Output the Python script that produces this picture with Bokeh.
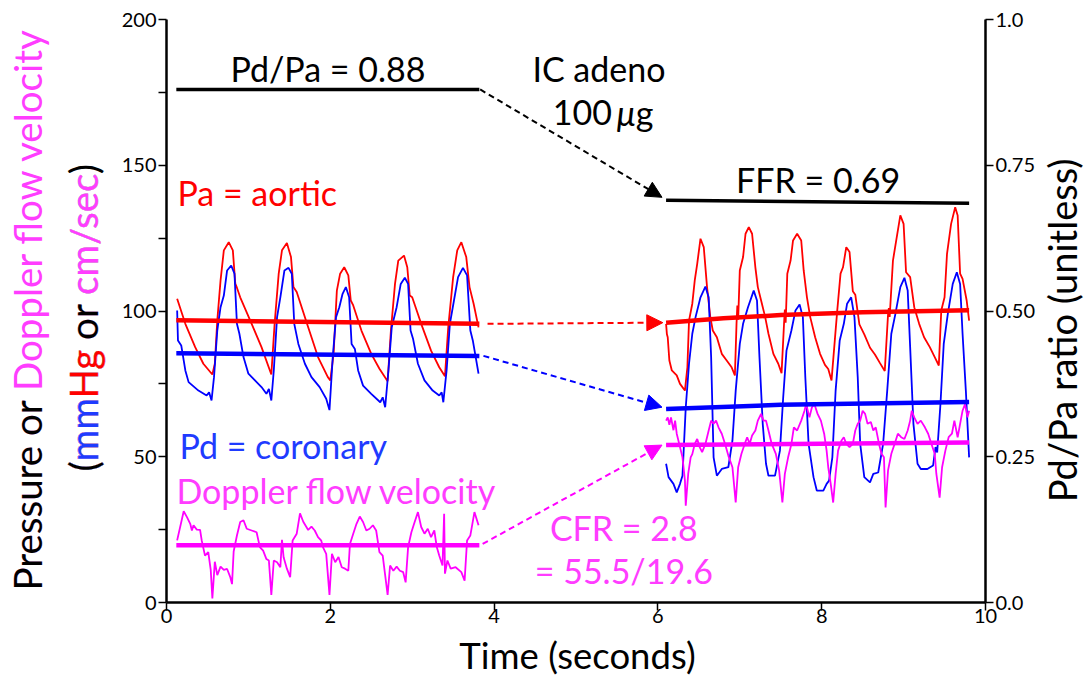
import math
from bokeh.plotting import figure
from bokeh.layouts import row, column
from bokeh.models import Range1d, LinearAxis, FixedTicker, Label, Arrow, NormalHead
from bokeh.core.properties import value
from bokeh.embed import file_html
from bokeh.resources import INLINE

# ---------------- data ----------------
x_ticks = [0, 2, 4, 6, 8, 10]
y_ticks = [0, 50, 100, 150, 200]
y_minor = [25, 75, 125, 175]
r_ticks = [0.0, 0.25, 0.50, 0.75, 1.0]
r_tick_labels = ["0.0", "0.25", "0.50", "0.75", "1.0"]

# baseline (before adenosine)
pa_pre = [(0.13,104.2),(0.23,95.6),(0.35,87.6),(0.45,81.9),(0.56,78.2),(0.59,81.9),(0.62,96.7),(0.66,110.5),
          (0.70,120.8),(0.76,123.6),(0.81,120.8),(0.84,109.4),(0.86,108.0),(0.90,104.7),(1.04,95.6),(1.16,87.6),
          (1.28,78.2),(1.32,95.6),(1.37,112.8),(1.41,120.8),(1.47,123.3),(1.52,118.5),(1.55,108.2),(1.59,106.5),
          (1.73,94.4),(1.85,84.2),(1.97,77.3),(2.00,76.2),(2.04,85.3),(2.08,107.0),(2.12,112.8),(2.17,115.0),
          (2.22,112.2),(2.25,103.6),(2.28,101.9),(2.38,93.3),(2.50,85.3),(2.60,80.2),(2.70,75.9),(2.74,93.3),
          (2.79,109.3),(2.83,117.3),(2.90,119.0),(2.94,115.0),(2.97,105.3),(3.00,104.7),(3.11,95.6),(3.23,86.4),
          (3.33,80.7),(3.40,77.6),(3.44,94.4),(3.50,111.6),(3.55,120.8),(3.60,123.6),(3.66,118.5),(3.70,108.2),
          (3.75,102.5),(3.81,94.4)]
pd_pre = [(0.13,100.2),(0.14,89.9),(0.18,88.2),(0.23,79.6),(0.27,75.6),(0.39,72.7),(0.49,71.0),(0.52,72.1),
          (0.55,69.3),(0.58,77.3),(0.62,93.3),(0.66,101.3),(0.70,105.3),(0.74,113.9),(0.79,115.6),(0.83,112.8),
          (0.86,95.6),(0.89,92.2),(0.94,84.2),(1.00,78.5),(1.08,76.2),(1.16,73.9),(1.22,71.6),(1.25,73.3),
          (1.28,69.3),(1.31,79.6),(1.35,97.9),(1.39,104.7),(1.44,113.9),(1.49,114.8),(1.53,112.8),(1.56,95.6),
          (1.61,88.7),(1.69,81.9),(1.77,77.3),(1.87,73.9),(1.95,69.9),(1.99,66.0),(2.03,84.2),(2.07,97.9),
          (2.11,101.3),(2.15,105.9),(2.19,108.2),(2.23,104.7),(2.26,88.7),(2.30,87.0),(2.34,79.6),(2.40,74.4),
          (2.50,71.6),(2.61,68.7),(2.64,70.4),(2.67,67.0),(2.71,79.6),(2.75,94.4),(2.81,101.3),(2.86,109.3),
          (2.91,111.4),(2.95,109.3),(2.98,93.3),(3.01,90.5),(3.07,81.9),(3.15,76.2),(3.25,72.7),(3.33,71.0),
          (3.36,72.1),(3.38,68.7),(3.42,79.6),(3.46,95.6),(3.51,103.6),(3.56,111.6),(3.62,114.8),(3.67,112.2),
          (3.71,93.3),(3.74,89.9),(3.81,78.5)]
dop_pre = [(0.13,21.3),(0.21,31.3),(0.25,29.3),(0.29,27.0),(0.31,24.7),(0.33,26.5),(0.37,25.0),(0.41,24.9),
           (0.43,21.3),(0.47,16.1),(0.51,17.3),(0.54,11.2),(0.56,1.4),(0.59,14.0),(0.62,9.4),(0.66,12.3),
           (0.70,11.2),(0.74,11.5),(0.78,8.6),(0.80,6.3),(0.82,17.5),(0.86,23.0),(0.90,27.6),(0.94,28.2),
           (0.98,25.3),(1.04,24.7),(1.10,24.1),(1.14,19.0),(1.18,17.8),(1.22,14.9),(1.25,14.4),(1.28,2.6),
           (1.31,14.4),(1.35,13.8),(1.39,12.1),(1.41,21.5),(1.43,15.5),(1.47,11.6),(1.51,8.7),(1.54,21.3),
           (1.59,23.6),(1.63,30.6),(1.67,27.7),(1.73,24.9),(1.77,26.0),(1.81,24.7),(1.85,22.4),(1.89,21.2),
           (1.91,19.0),(1.95,16.7),(1.99,2.6),(2.02,16.7),(2.06,13.8),(2.10,15.6),(2.14,12.1),(2.18,11.6),
           (2.22,10.9),(2.24,20.1),(2.28,23.6),(2.32,27.0),(2.36,29.5),(2.40,27.6),(2.44,24.7),(2.48,25.3),
           (2.52,26.5),(2.56,24.7),(2.60,17.3),(2.64,16.1),(2.70,2.6),(2.73,12.7),(2.77,10.9),(2.81,12.3),
           (2.85,10.9),(2.89,10.4),(2.92,6.9),(2.95,19.0),(2.99,24.1),(3.03,27.6),(3.07,31.0),(3.11,25.9),
           (3.15,23.6),(3.19,25.3),(3.23,22.4),(3.27,24.7),(3.30,19.0),(3.33,16.1),(3.37,12.7),(3.39,30.4),
           (3.40,9.9),(3.43,14.4),(3.47,11.6),(3.53,12.1),(3.60,10.4),(3.64,7.5),(3.67,21.3),(3.71,23.0),
           (3.76,31.0),(3.81,26.5)]

# hyperemia (after IC adenosine)
pa_post = [(6.10,95.6),(6.11,92.0),(6.12,91.0),(6.14,83.0),(6.17,79.6),(6.23,77.9),(6.27,75.0),(6.33,72.7),
           (6.36,80.7),(6.38,96.7),(6.42,102.5),(6.45,110.5),(6.48,116.2),(6.52,124.8),(6.56,121.9),(6.60,108.2),
           (6.64,97.9),(6.67,93.3),(6.72,91.0),(6.78,85.3),(6.84,83.0),(6.90,80.7),(6.94,77.9),(6.96,95.6),
           (6.97,101.9),(6.98,97.0),(7.00,113.9),(7.04,118.5),(7.07,126.5),(7.11,128.8),(7.15,126.5),(7.19,115.0),
           (7.22,108.2),(7.27,102.5),(7.31,97.9),(7.35,92.2),(7.41,85.3),(7.47,81.9),(7.51,78.7),(7.54,95.6),
           (7.55,100.5),(7.56,96.0),(7.58,112.8),(7.62,117.3),(7.65,124.2),(7.70,126.5),(7.75,124.2),(7.78,113.9),
           (7.82,104.7),(7.86,97.9),(7.92,91.0),(7.98,85.3),(8.04,81.5),(8.08,80.1),(8.12,76.2),(8.16,89.9),
           (8.19,100.2),(8.23,112.8),(8.26,115.0),(8.30,121.9),(8.34,120.2),(8.38,106.8),(8.41,105.6),(8.46,95.4),
           (8.52,92.0),(8.59,87.4),(8.65,85.1),(8.71,82.2),(8.77,79.4),(8.81,98.8),(8.82,101.0),(8.83,98.0),
           (8.87,117.3),(8.91,124.2),(8.96,132.8),(9.00,129.9),(9.03,113.3),(9.08,111.6),(9.13,101.3),(9.19,95.6),
           (9.25,91.0),(9.32,87.6),(9.38,84.2),(9.43,81.3),(9.46,100.2),(9.50,104.7),(9.53,119.6),(9.58,129.9),
           (9.63,135.6),(9.66,132.8),(9.69,112.8),(9.72,111.0),(9.77,103.6),(9.80,96.7)]
pd_post = [(6.10,47.6),(6.13,43.0),(6.19,40.7),(6.23,37.8),(6.27,40.7),(6.30,43.5),(6.34,66.9),(6.38,81.9),
           (6.42,92.2),(6.46,97.9),(6.52,104.7),(6.58,108.4),(6.62,104.7),(6.65,84.2),(6.68,49.8),(6.72,43.5),
           (6.78,45.8),(6.86,46.4),(6.91,55.5),(6.95,72.7),(7.00,88.7),(7.04,95.6),(7.10,101.3),(7.17,107.0),
           (7.21,103.6),(7.24,84.2),(7.28,61.3),(7.32,47.6),(7.35,43.5),(7.43,43.5),(7.49,52.1),(7.53,70.4),
           (7.57,86.4),(7.63,93.3),(7.68,100.2),(7.73,102.2),(7.77,97.9),(7.80,77.3),(7.84,54.4),(7.90,43.0),
           (7.94,38.4),(8.02,38.4),(8.06,40.7),(8.09,41.8),(8.13,49.8),(8.17,72.7),(8.22,89.9),(8.27,95.6),
           (8.31,102.5),(8.36,104.7),(8.40,97.9),(8.44,77.3),(8.47,54.4),(8.52,43.0),(8.59,41.2),(8.63,44.1),
           (8.69,44.6),(8.75,54.4),(8.80,72.7),(8.85,92.2),(8.90,99.0),(8.96,108.2),(9.01,111.4),(9.05,107.0),
           (9.08,87.6),(9.12,61.3),(9.17,47.6),(9.21,45.8),(9.29,45.8),(9.36,47.0),(9.39,53.3),(9.41,51.5),
           (9.45,68.1),(9.49,88.7),(9.54,99.0),(9.60,109.3),(9.65,113.3),(9.69,109.3),(9.72,92.2),(9.76,72.7),
           (9.80,49.8)]
dop_post = [(6.10,62.4),(6.12,63.5),(6.14,61.0),(6.16,63.5),(6.19,59.1),(6.21,62.4),(6.23,57.9),(6.27,53.3),
            (6.30,49.8),(6.33,41.8),(6.34,33.2),(6.37,44.1),(6.40,49.8),(6.42,50.9),(6.45,54.4),(6.48,56.1),
            (6.51,53.3),(6.54,51.6),(6.58,54.4),(6.62,59.0),(6.65,62.4),(6.68,61.3),(6.71,62.4),(6.74,60.1),
            (6.78,57.9),(6.82,54.4),(6.86,50.4),(6.91,46.4),(6.95,34.3),(6.98,46.4),(7.02,51.0),(7.06,54.4),
            (7.09,56.7),(7.12,54.4),(7.15,57.3),(7.19,59.0),(7.22,62.4),(7.26,64.7),(7.29,62.4),(7.32,62.4),
            (7.35,59.0),(7.39,54.4),(7.44,51.0),(7.48,45.3),(7.52,34.3),(7.55,44.1),(7.59,49.8),(7.63,54.4),
            (7.66,60.1),(7.70,59.0),(7.75,62.4),(7.79,65.8),(7.81,68.1),(7.85,63.5),(7.88,66.9),(7.91,68.1),
            (7.95,64.7),(7.99,62.4),(8.03,57.9),(8.06,52.1),(8.08,46.4),(8.11,40.7),(8.14,34.3),(8.17,44.1),
            (8.20,52.1),(8.24,55.5),(8.27,56.7),(8.30,54.4),(8.34,53.3),(8.38,54.4),(8.41,59.0),(8.44,61.3),
            (8.47,62.4),(8.50,65.8),(8.53,64.7),(8.56,61.3),(8.60,61.9),(8.63,59.0),(8.66,60.1),(8.70,54.4),
            (8.73,51.0),(8.76,49.8),(8.78,32.6),(8.81,45.3),(8.85,51.0),(8.89,54.4),(8.93,57.9),(8.97,56.7),
            (9.01,56.1),(9.05,59.0),(9.08,62.4),(9.10,65.8),(9.13,63.5),(9.17,61.3),(9.21,62.4),(9.26,60.1),
            (9.30,57.9),(9.34,54.4),(9.38,51.0),(9.40,44.1),(9.44,36.0),(9.47,46.4),(9.51,52.1),(9.55,56.7),
            (9.59,57.9),(9.62,62.4),(9.66,56.7),(9.69,61.3),(9.72,65.8),(9.75,68.1),(9.78,63.5),(9.80,65.8)]

# mean values
pa_mean_pre_t, pa_mean_pre = [0.12, 3.82], [96.8, 95.6]
pd_mean_pre_t, pd_mean_pre = [0.12, 3.82], [85.5, 84.6]
dop_mean_pre_t, dop_mean_pre = [0.12, 3.82], [19.6, 19.6]
pa_mean_post_t, pa_mean_post = [6.10, 6.80, 7.50, 8.50, 9.80], [96.0, 97.5, 98.6, 99.6, 100.3]
pd_mean_post_t, pd_mean_post = [6.10, 7.50, 9.80], [66.4, 67.8, 68.8]
dop_mean_post_t, dop_mean_post = [6.10, 9.80], [54.0, 54.9]

# Pd/Pa ratio (right axis)
ratio_pre_t, ratio_pre = [0.12, 3.82], [0.88, 0.88]
ratio_post_t, ratio_post = [6.10, 9.80], [0.69, 0.685]

# ---------------- styling / layout ----------------
RED = "#FF0000"
BLUE = "#0000FF"
MAG = "#FF00FF"
RED_T = "#FF0000"
BLUE_T = "#1F3BFF"
MAG_T = "#FF3DFF"
FONT = "Lato"
SHIFT = 0.38          # empirical baseline correction (fraction of font size)

TOTAL_W, TOTAL_H = 1088, 676
LW = 110              # left title strip
PW = 928              # main figure
RW = TOTAL_W - LW - PW
MH = 632              # height of the top row
BH = TOTAL_H - MH     # bottom title strip
# frame in page pixels
FL, FR, FT, FB = 166, 988, 19, 602


def dx(px):
    return (px - FL) / (FR - FL) * 10.0


def dy(py):
    return (FB - py) / (FB - FT) * 200.0


p = figure(width=PW, height=MH, output_backend="svg", toolbar_location=None,
           x_range=Range1d(0, 10), y_range=Range1d(0, 200),
           min_border_left=FL - LW, min_border_right=PW - (FR - LW),
           min_border_top=FT, min_border_bottom=MH - FB)
p.outline_line_color = None
p.xgrid.grid_line_color = None
p.ygrid.grid_line_color = None
p.background_fill_color = "white"
p.border_fill_color = "white"
p.extra_y_ranges = {"ratio": Range1d(0, 1)}


def style_axis(ax):
    ax.axis_line_width = 2.5
    ax.axis_line_color = "black"
    ax.major_tick_line_width = 1.5
    ax.major_tick_line_color = "black"
    ax.major_tick_in = 0
    ax.major_tick_out = 8
    ax.major_label_text_font = FONT
    ax.major_label_text_font_size = "20px"
    ax.major_label_text_color = "black"
    ax.major_label_standoff = 2
    ax.axis_label = None


style_axis(p.xaxis[0])
p.xaxis[0].ticker = FixedTicker(ticks=x_ticks, minor_ticks=[])
p.xaxis[0].minor_tick_line_color = None
p.xaxis[0].major_label_standoff = -2

style_axis(p.yaxis[0])
p.yaxis[0].ticker = FixedTicker(ticks=y_ticks, minor_ticks=y_minor)
p.yaxis[0].minor_tick_in = 0
p.yaxis[0].minor_tick_out = 8
p.yaxis[0].minor_tick_line_width = 1.5
p.yaxis[0].minor_tick_line_color = "black"

rax = LinearAxis(y_range_name="ratio", ticker=FixedTicker(ticks=r_ticks, minor_ticks=[]))
style_axis(rax)
rax.minor_tick_line_color = None
rax.major_label_overrides = {t: s for t, s in zip(r_ticks, r_tick_labels)}
p.add_layout(rax, "right")


def xy(pairs):
    return [a for a, _ in pairs], [b for _, b in pairs]


# waveforms
for pairs, col in [(pa_pre, RED), (pd_pre, BLUE), (dop_pre, MAG),
                   (pa_post, RED), (pd_post, BLUE), (dop_post, MAG)]:
    xs, ys = xy(pairs)
    p.line(xs, ys, line_color=col, line_width=1.8)

# means
for xs, ys, col in [(pa_mean_pre_t, pa_mean_pre, RED), (pd_mean_pre_t, pd_mean_pre, BLUE),
                    (dop_mean_pre_t, dop_mean_pre, MAG), (pa_mean_post_t, pa_mean_post, RED),
                    (pd_mean_post_t, pd_mean_post, BLUE), (dop_mean_post_t, dop_mean_post, MAG)]:
    p.line(xs, ys, line_color=col, line_width=4.5)

p.line(ratio_pre_t, ratio_pre, y_range_name="ratio", line_color="black", line_width=3.5)
p.line(ratio_post_t, ratio_post, y_range_name="ratio", line_color="black", line_width=3.5)

# dashed arrows
for (x0, y0, x1, y1, col) in [
        (ratio_pre_t[-1] + 0.01, ratio_pre[-1] * 200, 6.05, 139.0, "black"),
        (3.92, pa_mean_pre[-1], 6.06, pa_mean_post[0], RED),
        (3.87, pd_mean_pre[-1], 6.05, pd_mean_post[0] + 0.6, BLUE),
        (3.86, dop_mean_pre[-1] + 0.5, 6.05, dop_mean_post[0], MAG)]:
    p.add_layout(Arrow(end=NormalHead(size=16, fill_color=col, line_color=col, line_width=1),
                       x_start=x0, y_start=y0, x_end=x1, y_end=y1,
                       line_color=col, line_width=2, line_dash="6 4"))


def lab(text, px, py, color="black", size=34, align="left", style="normal"):
    # py is the wanted baseline (page pixels)
    p.add_layout(Label(x=dx(px), y=dy(py - SHIFT * size), text=text, text_color=color,
                       text_font=FONT, text_font_size=f"{size}px", text_align=align,
                       text_baseline="alphabetic", text_font_style=style))


# in-plot annotations
lab("Pd/Pa = 0.88", 328, 81, align="center")
lab("IC adeno", 600, 81, align="center")
lab("100", 613, 125, align="right")
lab("\u03bc", 618, 125, style="italic")
lab("g", 637, 125)
lab("FFR = 0.69", 820, 192, align="center")
lab("Pa = aortic", 177, 205, color=RED_T)
lab("Pd = coronary", 179, 458, color=BLUE_T)
lab("Doppler flow velocity", 176, 503, color=MAG_T)
lab("CFR = 2.8", 625, 540, color=MAG_T, align="center")
lab("= 55.5/19.6", 625, 583, color=MAG_T, align="center")


# ---------------- side strips for the axis titles ----------------
def strip(w, h):
    f = figure(width=w, height=h, output_backend="svg", toolbar_location=None,
               x_range=Range1d(0, w), y_range=Range1d(0, h), min_border=0,
               x_axis_location=None, y_axis_location=None)
    f.outline_line_color = None
    f.xgrid.grid_line_color = None
    f.ygrid.grid_line_color = None
    f.background_fill_color = "white"
    f.border_fill_color = "white"
    return f


A = math.pi / 2
TS = 38.5


def vtext(f, x, y, text, color, align="left", size=TS):
    f.text(x=[x], y=[y], text=[text], angle=A, text_color=color, text_font=value(FONT),
           text_font_size=f"{size}px", text_align=align, text_baseline="alphabetic")


left = strip(LW, MH)
# line 1: "Pressure or Doppler flow velocity" (coloured by overlaying prefixes)
X1, Y1 = 41 - SHIFT * TS, MH - 619
line1 = [("Pressure or Doppler flow velocity", MAG_T), ("Pressure or", "black")]
# line 2: "(mmHg or cm/sec)"
X2, Y2 = 97 - SHIFT * TS, MH - 490
line2 = [("(mmHg or cm/sec)", "black"), ("(mmHg or cm/sec", MAG_T), ("(mmHg or", "black"),
         ("(mmHg", RED_T), ("(mm", BLUE_T), ("(", "black")]
for (X, Y, layers) in [(X1, Y1, line1), (X2, Y2, line2)]:
    for i, (txt, col) in enumerate(layers):
        if i > 0:
            vtext(left, X, Y, txt, "white")
        vtext(left, X, Y, txt, col)

right = strip(RW, MH)
vtext(right, 1076 - SHIFT * 38 - (LW + PW), MH - 337, "Pd/Pa ratio (unitless)", "black",
      align="center", size=38)

TT = 36.5
bottom = strip(TOTAL_W, BH)
bottom.text(x=[577], y=[BH - (668 - SHIFT * TT - MH)], text=["Time (seconds)"],
            text_color="black", text_font=value(FONT), text_font_size=f"{TT}px",
            text_align="center", text_baseline="alphabetic")

layout = column(row(left, p, right), bottom)
open("out.html", "w").write(file_html(layout, INLINE))
